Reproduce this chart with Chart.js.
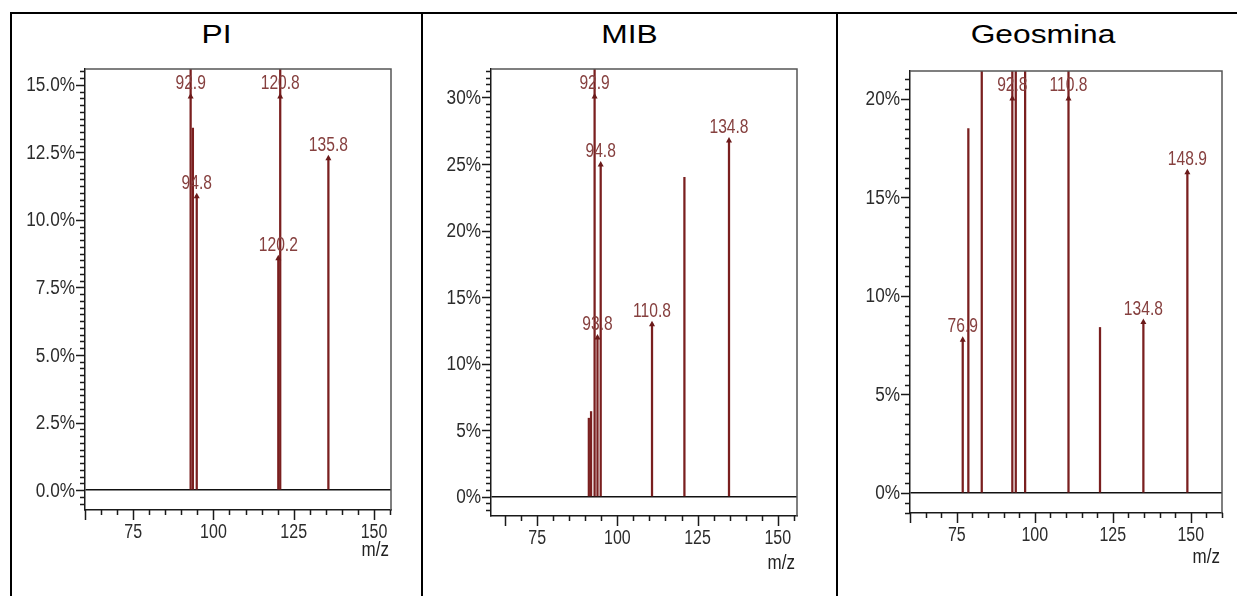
<!DOCTYPE html>
<html>
<head>
<meta charset="utf-8">
<script src="https://cdn.jsdelivr.net/npm/chart.js@4.4.1/dist/chart.umd.min.js"></script>
<style>
	html, body { margin: 0; padding: 0; background: #fff; width: 1237px; height: 596px; overflow: hidden; }
	.frame { position: absolute; left: 10px; top: 12px; width: 1300px; height: 700px; border-left: 2px solid #000; border-top: 2px solid #000; }
	.divider { position: absolute; top: 12px; width: 0; height: 700px; border-left: 2px solid #000; }
	.title { position: absolute; top: 20px; font: 25px "Liberation Sans", Arial, sans-serif; color: #000; text-align: center; transform: scaleX(1.27); }
	canvas { position: absolute; }
</style>
</head>
<body>
<div class="frame"></div>
<div class="divider" style="left:421px"></div>
<div class="divider" style="left:836px"></div>
<div class="title" style="left:12px;width:409px">PI</div>
<div class="title" style="left:423px;width:413px">MIB</div>
<div class="title" style="left:838px;width:410px">Geosmina</div>
<div style="position:absolute;left:12px;top:50px;width:409px;height:546px"><canvas id="chart-pi"></canvas></div>
<div style="position:absolute;left:423px;top:50px;width:413px;height:546px"><canvas id="chart-mib"></canvas></div>
<div style="position:absolute;left:838px;top:50px;width:399px;height:546px"><canvas id="chart-geo"></canvas></div>

<script>
// ── Data ─────────────────────────────────────────────────
// PI
const piMz = [ 92.9, 93.6, 94.8, 120.2, 120.8, 135.8 ];
const piIntensity = [ 17.5, 13.4, 10.9, 8.6, 17.5, 12.3 ];
const piPeakLabels = [ '92.9', '', '94.8', '120.2', '120.8', '135.8' ];
const piYRange = [ -0.74, 15.59 ];
const piXRange = [ 60, 155.3 ];

// MIB
const mibMz = [ 91.1, 91.8, 92.9, 93.8, 94.8, 110.8, 120.9, 134.8 ];
const mibIntensity = [ 5.9, 6.4, 35.0, 12.0, 25.0, 13.0, 24.0, 26.8 ];
const mibPeakLabels = [ '', '', '92.9', '93.8', '94.8', '110.8', '', '134.8' ];
const mibYRange = [ -1.45, 32.14 ];
const mibXRange = [ 60.6, 156 ];

// Geosmina
const geoMz = [ 76.9, 78.7, 83.0, 92.8, 93.9, 96.9, 110.8, 120.9, 134.8, 148.9 ];
const geoIntensity = [ 7.8, 18.5, 24.0, 24.0, 24.0, 24.0, 24.0, 8.4, 8.7, 16.3 ];
const geoPeakLabels = [ '76.9', '', '', '92.8', '', '', '110.8', '', '134.8', '148.9' ];
const geoYRange = [ -1.02, 21.42 ];
const geoXRange = [ 60, 160 ];

// tick steps: [minor, major]
const piYSteps = [ 0.25, 2.5 ];
const mibYSteps = [ 0.5, 5 ];
const geoYSteps = [ 0.5, 5 ];
const xSteps = [ 5, 25 ];

( function () {
	'use strict';

	const palette = {
		stick: '#7a1f1f',
		arrow: '#6b1a1a',
		peakText: '#86403f',
		tickText: '#2c2c2c',
		axis: '#1a1a1a',
		box: '#555555',
	};

	const sans = '"Liberation Sans", Arial, sans-serif';

	const isMajor = ( v, step ) => Math.abs( v / step - Math.round( v / step ) ) < 1e-6;

	// values on a step grid inside [min, max]
	const stepValues = ( min, max, step ) => {
		const out = [];
		const first = Math.ceil( min / step - 1e-9 );
		const last = Math.floor( max / step + 1e-9 );
		for ( let k = first; k <= last; k++ ) {
			out.push( Math.round( k * step * 1e6 ) / 1e6 );
		}
		return out;
	};

	// condensed text, like the old instrument fonts
	const squeezedText = ( ctx, text, x, y, sx, align ) => {
		ctx.save();
		ctx.translate( x, y );
		ctx.scale( sx, 1 );
		ctx.textAlign = align;
		ctx.fillText( text, 0, 0 );
		ctx.restore();
	};

	const renderSpectrum = ( canvasId, p ) => {
		const canvas = document.getElementById( canvasId );
		const box = canvas.parentNode.getBoundingClientRect();
		const [ yMinor, yMajor ] = p.ySteps;
		const [ xMinor, xMajor ] = xSteps;

		// ── arrow marks + peak labels ───────────────────────
		const peakMarks = {
			id: 'peakMarks',
			afterDatasetsDraw( chart ) {
				const { ctx, chartArea, scales: { x, y } } = chart;
				ctx.save();
				ctx.font = '20px ' + sans;
				ctx.textBaseline = 'alphabetic';
				p.labels.forEach( ( lab, i ) => {
					if ( ! lab ) return;
					const px = x.getPixelForValue( p.mz[ i ] );
					// clipped peaks get their mark just under the frame
					const py = Math.max( y.getPixelForValue( p.values[ i ] ), chartArea.top + 27 );
					ctx.fillStyle = palette.arrow;
					ctx.beginPath();
					ctx.moveTo( px, py - 3 );
					ctx.lineTo( px - 3, py + 2.5 );
					ctx.lineTo( px + 3, py + 2.5 );
					ctx.closePath();
					ctx.fill();
					ctx.fillStyle = palette.peakText;
					squeezedText( ctx, lab, px, py - 7, 0.78, 'center' );
				} );
				ctx.restore();
			},
		};

		// ── tick marks, tick labels + box ───────────────────
		const axisTicks = {
			id: 'axisTicks',
			afterDraw( chart ) {
				const { ctx, chartArea: a, scales: { x, y } } = chart;
				ctx.save();
				ctx.lineWidth = 1.5;
				ctx.strokeStyle = palette.axis;

				ctx.beginPath();
				stepValues( p.yRange[ 0 ], p.yRange[ 1 ], yMinor ).forEach( ( v ) => {
					const py = Math.round( y.getPixelForValue( v ) ) + 0.5;
					const len = isMajor( v, yMajor ) ? 9 : 5;
					ctx.moveTo( a.left - len, py );
					ctx.lineTo( a.left, py );
				} );
				stepValues( p.xRange[ 0 ], p.xRange[ 1 ], xMinor ).forEach( ( v, i ) => {
					const px = Math.round( x.getPixelForValue( v ) ) + 0.5;
					const len = isMajor( v, xMajor ) || i === 0 ? 10 : 5;
					ctx.moveTo( px, a.bottom );
					ctx.lineTo( px, a.bottom + len );
				} );
				ctx.stroke();

				ctx.strokeStyle = palette.box;
				ctx.beginPath();
				ctx.moveTo( a.left, a.top );
				ctx.lineTo( a.right, a.top );
				ctx.lineTo( a.right, a.bottom );
				ctx.stroke();

				ctx.fillStyle = palette.tickText;
				ctx.font = '20px ' + sans;
				ctx.textBaseline = 'middle';
				stepValues( p.yRange[ 0 ], p.yRange[ 1 ], yMajor ).forEach( ( v ) => {
					squeezedText( ctx, v.toFixed( p.decimals ) + '%', a.left - 10, y.getPixelForValue( v ) + 1, 0.86, 'right' );
				} );
				stepValues( p.xRange[ 0 ], p.xRange[ 1 ], xMajor ).forEach( ( v ) => {
					squeezedText( ctx, String( v ), x.getPixelForValue( v ), a.bottom + 22, 0.8, 'center' );
				} );
				ctx.fillStyle = '#222';
				squeezedText( ctx, 'm/z', a.right - 2, a.bottom + p.unitGap, 0.85, 'right' );
				ctx.restore();
			},
		};

		// chart area wanted in page coords -> padding & axis sizes
		const xAxisH = 60;
		const yAxisW = p.area.l - box.left;
		const padTop = p.area.t - box.top;
		const padRight = box.right - p.area.r;
		const padBottom = box.bottom - p.area.b - xAxisH;

		new Chart( canvas, {
			type: 'bar',
			data: {
				datasets: [
					{
						data: p.mz.map( ( m, i ) => ( { x: m, y: p.values[ i ] } ) ),
						backgroundColor: palette.stick,
						borderWidth: 0,
						barThickness: 1.6,
					},
				],
			},
			options: {
				responsive: true,
				maintainAspectRatio: false,
				animation: false,
				layout: { padding: { top: padTop, right: padRight, bottom: padBottom, left: 0 } },
				plugins: {
					legend: { display: false },
					tooltip: { enabled: false },
				},
				scales: {
					x: {
						type: 'linear',
						offset: false,
						min: p.xRange[ 0 ],
						max: p.xRange[ 1 ],
						afterFit: ( s ) => { s.height = xAxisH; },
						border: { display: true, color: palette.axis, width: 1.5 },
						grid: { display: false, offset: false },
						ticks: { display: false },
					},
					y: {
						min: p.yRange[ 0 ],
						max: p.yRange[ 1 ],
						afterFit: ( s ) => { s.width = yAxisW; },
						border: { display: true, color: palette.axis, width: 1.5 },
						grid: {
							drawTicks: false,
							color: ( c ) => ( c.tick && Math.abs( c.tick.value ) < 1e-9 ? '#111' : 'rgba(0,0,0,0)' ),
							lineWidth: 1.5,
						},
						ticks: { display: false, stepSize: yMajor },
					},
				},
			},
			plugins: [ peakMarks, axisTicks ],
		} );
	};

	renderSpectrum( 'chart-pi', {
		mz: piMz, values: piIntensity, labels: piPeakLabels,
		yRange: piYRange, xRange: piXRange, ySteps: piYSteps, decimals: 1,
		area: { l: 85, r: 391, t: 69, b: 510 }, unitGap: 40,
	} );

	renderSpectrum( 'chart-mib', {
		mz: mibMz, values: mibIntensity, labels: mibPeakLabels,
		yRange: mibYRange, xRange: mibXRange, ySteps: mibYSteps, decimals: 0,
		area: { l: 491, r: 797, t: 69, b: 516 }, unitGap: 47,
	} );

	renderSpectrum( 'chart-geo', {
		mz: geoMz, values: geoIntensity, labels: geoPeakLabels,
		yRange: geoYRange, xRange: geoXRange, ySteps: geoYSteps, decimals: 0,
		area: { l: 910, r: 1222, t: 71, b: 513 }, unitGap: 44,
	} );
} )();
</script>
</body>
</html>
